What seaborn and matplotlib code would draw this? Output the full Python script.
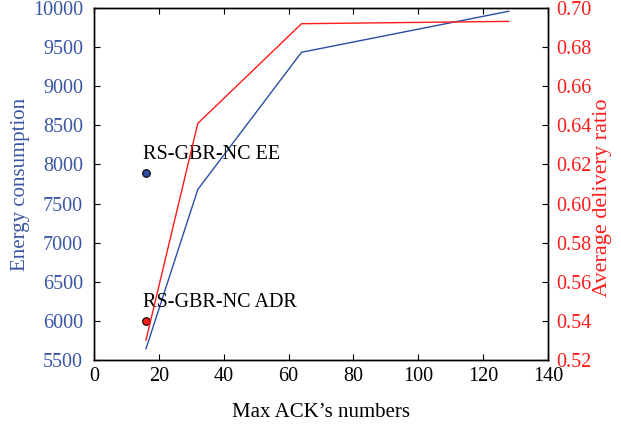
import pandas as pd
import matplotlib
matplotlib.use("Agg")
import matplotlib.pyplot as plt
import seaborn as sns

# values
ack_numbers = [16, 32, 64, 128]
energy = [5640, 7680, 9435, 9960]
delivery_ratio = [0.530, 0.641, 0.692, 0.6932]
ee_point = (16, 7890)
adr_point = (16, 6000)

BLUE = "#2c4da0"
RED = "#ff1a1a"
LABEL_BLUE = "#3a55a5"

sns.set_style("ticks")
plt.rcParams["font.family"] = ["Liberation Serif", "DejaVu Serif"]
plt.rcParams["xtick.direction"] = "in"
plt.rcParams["ytick.direction"] = "in"
plt.rcParams["text.color"] = "black"
plt.rcParams["axes.labelcolor"] = "black"
plt.rcParams["xtick.color"] = "black"
plt.rcParams["ytick.color"] = "black"

df = pd.DataFrame({"ack": ack_numbers, "energy": energy, "adr": delivery_ratio})

fig = plt.figure(figsize=(6.21, 4.25), dpi=100)
ax = fig.add_axes([0.1514, 0.153, 0.7310, 0.828])
ax2 = ax.twinx()

sns.lineplot(x="ack", y="energy", data=df, color=BLUE, linewidth=1.0, ax=ax)
sns.lineplot(x="ack", y="adr", data=df, color=RED, linewidth=1.0, ax=ax2)

# annotated points
sns.scatterplot(x=[ee_point[0]], y=[ee_point[1]], color=BLUE, edgecolor="black",
                s=30, linewidth=0.8, ax=ax, zorder=5)
sns.scatterplot(x=[adr_point[0]], y=[adr_point[1]], color=RED, edgecolor="black",
                s=30, linewidth=0.8, ax=ax, zorder=5)
ax.text(ee_point[0] - 0.8, ee_point[1] + 110, "RS-GBR-NC EE", fontsize=14.5,
        ha="left", va="bottom")
ax.text(adr_point[0] - 0.8, adr_point[1] + 110, "RS-GBR-NC ADR", fontsize=14.5,
        ha="left", va="bottom")

ax.set_xlim(0, 140)
ax.set_ylim(5500, 10000)
ax2.set_ylim(0.52, 0.70)
ax.set_xticks(range(0, 141, 20))
ax.set_yticks(range(5500, 10001, 500))
ax2.set_yticks([0.52 + 0.02 * i for i in range(10)])
ax2.set_yticklabels([f"{0.52 + 0.02 * i:.2f}" for i in range(10)])

ax.set_xlabel("Max ACK\u2019s numbers", fontsize=15, labelpad=12)
ax.set_ylabel("Energy consumption", fontsize=15, color=LABEL_BLUE, labelpad=2)
ax2.set_ylabel("Average delivery ratio", fontsize=16, color=RED, labelpad=9)
ax2.yaxis.set_label_coords(1.10, 0.46)

ax.tick_params(axis="x", labelsize=14.5, length=4, pad=5, top=True, labeltop=False)
ax.tick_params(axis="y", labelsize=14.5, length=4, pad=8, labelcolor=LABEL_BLUE)
ax2.tick_params(axis="y", labelsize=14.5, length=4, pad=6, labelcolor=RED)

for a in (ax, ax2):
    for s in a.spines.values():
        s.set_visible(True)
        s.set_linewidth(1.0)
        s.set_color("black")

fig.savefig("out.png", dpi=100)
